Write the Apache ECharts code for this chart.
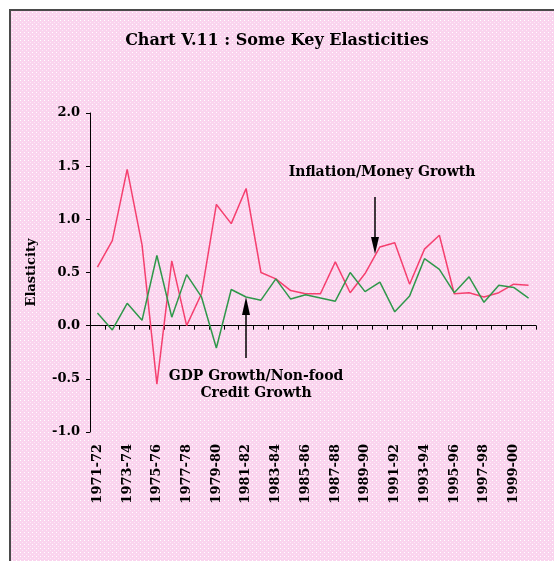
<!DOCTYPE html>
<html>
<head>
<meta charset="utf-8">
<script src="https://cdn.jsdelivr.net/npm/echarts@6/dist/echarts.min.js"></script>
<style>
  html, body { margin: 0; padding: 0; background: #fff; }
  #chart { width: 554px; height: 561px; }
</style>
</head>
<body>
<div id="chart"></div>
<script>
// years on the x axis
var years = [
  "1971-72", "1972-73", "1973-74", "1974-75", "1975-76", "1976-77", "1977-78", "1978-79",
  "1979-80", "1980-81", "1981-82", "1982-83", "1983-84", "1984-85", "1985-86", "1986-87",
  "1987-88", "1988-89", "1989-90", "1990-91", "1991-92", "1992-93", "1993-94", "1994-95",
  "1995-96", "1996-97", "1997-98", "1998-99", "1999-00", "2000-01"
];
// Inflation / Money Growth
var inflMoney = [
  0.55, 0.80, 1.47, 0.76, -0.55, 0.61, 0.00, 0.30, 1.14, 0.96,
  1.29, 0.50, 0.44, 0.33, 0.30, 0.30, 0.60, 0.31, 0.49, 0.74,
  0.78, 0.39, 0.72, 0.85, 0.30, 0.31, 0.27, 0.31, 0.39, 0.38
];
// GDP Growth / Non-food Credit Growth
var gdpCredit = [
  0.12, -0.04, 0.21, 0.05, 0.66, 0.08, 0.48, 0.27, -0.21, 0.34,
  0.27, 0.24, 0.44, 0.25, 0.29, 0.26, 0.23, 0.50, 0.32, 0.41,
  0.13, 0.28, 0.63, 0.53, 0.31, 0.46, 0.22, 0.38, 0.36, 0.26
];
var yTicks = ["-1.0", "-0.5", "0.0", "0.5", "1.0", "1.5", "2.0"];

var font = "'DejaVu Serif', serif";

// dotted pink background like the original
var pat = document.createElement("canvas");
pat.width = 4; pat.height = 4;
var pc = pat.getContext("2d");
pc.fillStyle = "#fad4ee";
pc.fillRect(0, 0, 4, 4);
pc.fillStyle = "#ffffff";
pc.fillRect(0, 0, 1, 1);
pc.fillStyle = "#fde9f7";
pc.fillRect(2, 2, 1, 1);

var chart = echarts.init(document.getElementById("chart"));

chart.setOption({
  backgroundColor: "#ffffff",
  animation: false,
  title: {
    text: "Chart V.11 : Some Key Elasticities",
    left: "center",
    top: 28,
    textStyle: { fontFamily: font, fontSize: 16, fontWeight: "bold", color: "#000" }
  },
  grid: { left: 90, right: 18, top: 113, bottom: 129 },
  xAxis: [
    {
      type: "category",
      data: years,
      boundaryGap: true,
      axisLine: { onZero: true, lineStyle: { color: "#000", width: 1 } },
      axisTick: { show: true, interval: 0, length: 4, lineStyle: { color: "#000" } },
      axisLabel: { show: false },
      splitLine: { show: false }
    },
    {
      type: "category",
      data: years,
      position: "bottom",
      boundaryGap: true,
      axisLine: { show: false, onZero: false },
      axisTick: { show: false },
      axisLabel: {
        interval: 1,
        rotate: 90,
        margin: 12,
        fontFamily: font,
        fontSize: 13,
        fontWeight: "bold",
        color: "#000"
      },
      splitLine: { show: false }
    }
  ],
  yAxis: {
    type: "value",
    min: -1,
    max: 2,
    interval: 0.5,
    name: "Elasticity",
    nameLocation: "middle",
    nameRotate: 90,
    nameGap: 52,
    nameTextStyle: { fontFamily: font, fontSize: 13, fontWeight: "bold", color: "#000" },
    axisLine: { show: true, lineStyle: { color: "#000", width: 1 } },
    axisTick: { show: true, length: 4, lineStyle: { color: "#000" } },
    axisLabel: {
      margin: 10,
      fontFamily: font,
      fontSize: 13,
      fontWeight: "bold",
      color: "#000",
      formatter: function (v) {
        return yTicks[Math.round((v + 1) * 2)];
      }
    },
    splitLine: { show: false }
  },
  series: [
    {
      name: "Inflation/Money Growth",
      type: "line",
      data: inflMoney,
      symbol: "none",
      lineStyle: { color: "#f5406f", width: 1.5 }
    },
    {
      name: "GDP Growth/Non-food Credit Growth",
      type: "line",
      data: gdpCredit,
      symbol: "none",
      lineStyle: { color: "#2e984a", width: 1.5 }
    }
  ],
  graphic: [
    {
      type: "rect",
      z: -10,
      silent: true,
      shape: { x: 10, y: 10, width: 600, height: 600 },
      style: { fill: { image: pat, repeat: "repeat" }, stroke: "#4a4a4a", lineWidth: 2 }
    },
    // Inflation/Money Growth label + arrow
    {
      type: "text",
      x: 382, y: 172,
      style: {
        text: "Inflation/Money Growth",
        align: "center", verticalAlign: "middle",
        font: "bold 14px " + font, fill: "#000"
      }
    },
    {
      type: "line",
      shape: { x1: 375, y1: 197, x2: 375, y2: 240 },
      style: { stroke: "#000", lineWidth: 1.5 }
    },
    {
      type: "polygon",
      shape: { points: [[371, 237], [379, 237], [375, 254]] },
      style: { fill: "#000" }
    },
    // GDP Growth/Non-food Credit Growth label + arrow
    {
      type: "text",
      x: 256, y: 385,
      style: {
        text: "GDP Growth/Non-food\nCredit Growth",
        align: "center", verticalAlign: "middle", lineHeight: 17,
        font: "bold 14px " + font, fill: "#000"
      }
    },
    {
      type: "line",
      shape: { x1: 246, y1: 358, x2: 246, y2: 312 },
      style: { stroke: "#000", lineWidth: 1.5 }
    },
    {
      type: "polygon",
      shape: { points: [[242, 315], [250, 315], [246, 297]] },
      style: { fill: "#000" }
    }
  ]
});
</script>
</body>
</html>
